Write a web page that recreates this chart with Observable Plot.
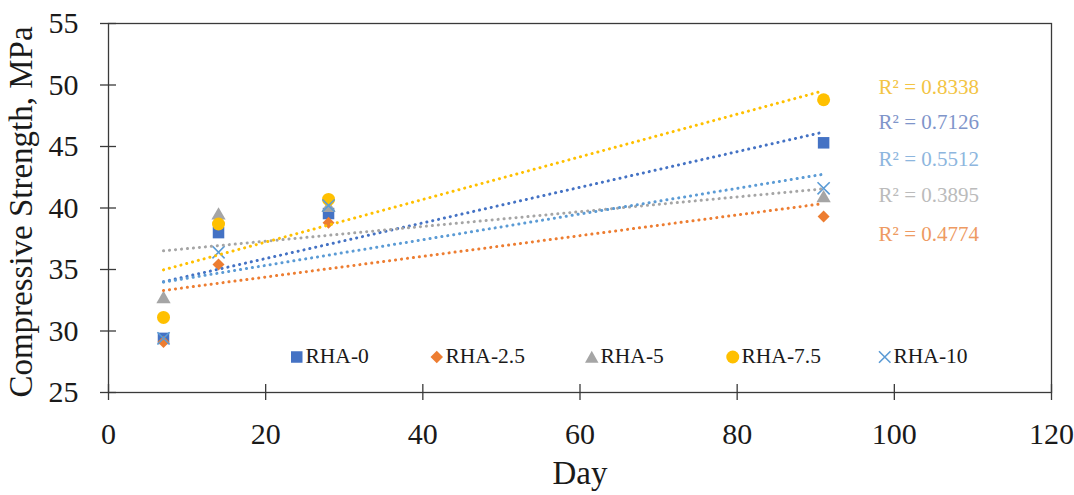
<!DOCTYPE html>
<html><head><meta charset="utf-8">
<script src="https://cdn.jsdelivr.net/npm/d3@7"></script>
<script src="https://cdn.jsdelivr.net/npm/@observablehq/plot@0.6"></script>
<style>
html,body{margin:0;padding:0;background:#fff;}
#wrap{position:relative;width:1074px;height:495px;font-family:"Liberation Serif","Times New Roman",serif;}
.lg{position:absolute;top:357px;transform:translateY(-50%);display:flex;align-items:center;font-size:21.5px;color:#1a1a1a;white-space:nowrap;line-height:1;}
.lg svg{margin-right:2px;overflow:visible}
</style></head><body><div id="wrap"></div>
<script>
// ---- data ----
const days = [7, 14, 28, 91];
const seriesNames = ["RHA-0", "RHA-2.5", "RHA-5", "RHA-7.5", "RHA-10"];
const rha0   = [29.4, 38.0, 39.55, 45.3];
const rha2_5 = [29.1, 35.4, 38.8, 39.3];
const rha5   = [32.6, 39.4, 40.0, 40.8];
const rha7_5 = [31.1, 38.7, 40.7, 48.8];
const rha10  = [29.4, 36.4, 40.2, 41.6];
const r2Text = ["R² = 0.8338", "R² = 0.7126", "R² = 0.5512", "R² = 0.3895", "R² = 0.4774"];
const r2Series = ["RHA-7.5", "RHA-0", "RHA-10", "RHA-5", "RHA-2.5"];
const xTicks = [0, 20, 40, 60, 80, 100, 120];
const yTicks = [25, 30, 35, 40, 45, 50, 55];

// ---- styling ----
const colors = {"RHA-0": "#4472C4", "RHA-2.5": "#ED7D31", "RHA-5": "#A5A5A5", "RHA-7.5": "#FFC000", "RHA-10": "#5B9BD5"};
const labelColors = {"RHA-7.5": "#F3C443", "RHA-0": "#7F95CA", "RHA-10": "#8DB6DE", "RHA-5": "#BBBBBB", "RHA-2.5": "#EE9A62"};
const symbols = {"RHA-0": "square", "RHA-2.5": "diamond2", "RHA-5": "triangle", "RHA-7.5": "circle", "RHA-10": "times"};
const radii = {"RHA-0": 6.5, "RHA-2.5": 5.4, "RHA-5": 5.3, "RHA-7.5": 6.5, "RHA-10": 5.6};
const r2LabelX = 98;
const r2LabelY = [49.8, 46.95, 44.0, 41.0, 37.9];
const legendCenters = [297, 437, 592, 733, 885];

const valuesBySeries = [rha0, rha2_5, rha5, rha7_5, rha10];
const rows = [];
seriesNames.forEach((s, i) => days.forEach((d, j) => rows.push({series: s, day: d, value: valuesBySeries[i][j]})));
const r2Rows = r2Text.map((t, i) => ({text: t, series: r2Series[i], x: r2LabelX, y: r2LabelY[i]}));

const axisColor = "#3a3a3a";
const textColor = "#1a1a1a";
const marks = [];

// dots
for (const s of seriesNames) {
  const data = rows.filter(d => d.series === s);
  const sym = symbols[s];
  if (sym === "times") {
    marks.push(Plot.dot(data, {x: "day", y: "value", symbol: sym, r: radii[s], stroke: colors[s], strokeWidth: 1.6, fill: "none"}));
  } else {
    marks.push(Plot.dot(data, {x: "day", y: "value", symbol: sym, r: radii[s], fill: colors[s], stroke: "none"}));
  }
}
// trendlines
for (const s of seriesNames) {
  const data = rows.filter(d => d.series === s);
  marks.push(Plot.linearRegressionY(data, {x: "day", y: "value", ci: 0, stroke: colors[s], strokeWidth: 3, strokeDasharray: "0.1,5.9", strokeLinecap: "round"}));
}
// R² labels
marks.push(Plot.text(r2Rows, {x: "x", y: "y", text: "text", fill: d => labelColors[d.series], textAnchor: "start", fontSize: 21, fontFamily: "Liberation Serif"}));

// frame + axes
marks.push(Plot.frame({stroke: axisColor, strokeWidth: 1.3}));
marks.push(Plot.axisX({ticks: xTicks, tickSize: 16, dy: -8, tickFormat: () => "", stroke: axisColor, strokeWidth: 1.3, label: null}));
marks.push(Plot.axisY({ticks: yTicks, tickSize: 16, dx: 8, tickFormat: () => "", stroke: axisColor, strokeWidth: 1.3, label: null}));
marks.push(Plot.axisX({ticks: xTicks, tickSize: 0, tickPadding: 30, fontSize: 30, fill: textColor, label: null}));
marks.push(Plot.axisY({ticks: yTicks, tickSize: 0, tickPadding: 30, fontSize: 30, fill: textColor, label: null}));
marks.push(Plot.text(["Day"], {frameAnchor: "bottom", textAnchor: "middle", dy: 81, lineAnchor: "middle", fontSize: 33, fill: textColor, text: d => d}));
marks.push(Plot.text(["Compressive Strength, MPa"], {frameAnchor: "left", textAnchor: "middle", dx: -87, dy: 4, rotate: -90, lineAnchor: "middle", fontSize: 33, fill: textColor, text: d => d}));

const chart = Plot.plot({
  width: 1074,
  height: 495,
  marginLeft: 108,
  marginRight: 23,
  marginTop: 23,
  marginBottom: 103,
  style: {fontFamily: "Liberation Serif, Times New Roman, serif", background: "#fff", color: textColor, overflow: "visible"},
  x: {domain: [0, 120], axis: null},
  y: {domain: [25, 55], axis: null},
  marks
});

const wrap = document.getElementById("wrap");
wrap.appendChild(chart);

// legend overlay
function markerSvg(s) {
  const c = colors[s];
  const sym = symbols[s];
  let inner = "";
  if (sym === "square") inner = `<rect x="1" y="1" width="11.5" height="11.5" fill="${c}"/>`;
  else if (sym === "diamond2") inner = `<polygon points="6.75,0.5 13,6.75 6.75,13 0.5,6.75" fill="${c}"/>`;
  else if (sym === "triangle") inner = `<polygon points="6.75,0.5 13.5,12.5 0,12.5" fill="${c}"/>`;
  else if (sym === "circle") inner = `<circle cx="6.75" cy="6.75" r="6.5" fill="${c}"/>`;
  else inner = `<path d="M1,1L12.5,12.5M1,12.5L12.5,1" stroke="${c}" stroke-width="1.6" fill="none"/>`;
  return `<svg width="13.5" height="13.5" viewBox="0 0 13.5 13.5">${inner}</svg>`;
}
seriesNames.forEach((s, i) => {
  const div = document.createElement("div");
  div.className = "lg";
  div.style.left = (legendCenters[i] - 7) + "px";
  div.innerHTML = markerSvg(s) + `<span>${s}</span>`;
  wrap.appendChild(div);
});
</script>
</body></html>
